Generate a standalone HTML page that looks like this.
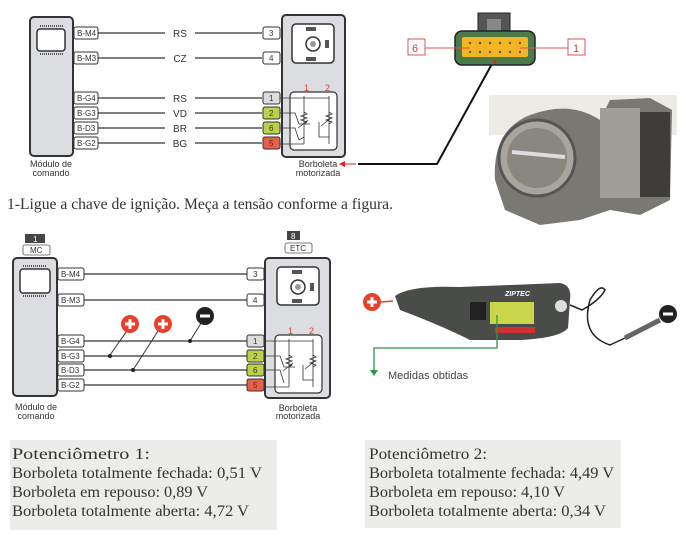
<!DOCTYPE html>
<html><head><meta charset="utf-8"><style>
html,body{margin:0;padding:0;background:#fff;}
svg{display:block;}
.s{font-family:"Liberation Sans",sans-serif;}
.r{font-family:"Liberation Serif",serif;}
</style></head><body>
<svg width="687" height="538" viewBox="0 0 687 538" xmlns="http://www.w3.org/2000/svg">
<rect width="687" height="538" fill="#fff"/>

<!-- ============ TOP DIAGRAM ============ -->
<g class="s">
<rect x="30" y="17" width="43" height="139" rx="4" fill="#dcdde0" stroke="#333" stroke-width="2"/>
<rect x="37" y="29" width="28" height="22" rx="3" fill="#fff" stroke="#333" stroke-width="1.5"/>
<line x1="40" y1="26" x2="63" y2="26" stroke="#555" stroke-width="2" stroke-dasharray="1,1"/>
<line x1="40" y1="54" x2="63" y2="54" stroke="#555" stroke-width="2" stroke-dasharray="1,1"/>
<text x="51" y="167" font-size="9" text-anchor="middle" fill="#333">Módulo de</text>
<text x="51" y="176" font-size="9" text-anchor="middle" fill="#333">comando</text>

<rect x="282" y="15" width="63" height="142" rx="4" fill="#dcdde0" stroke="#333" stroke-width="2"/>
<rect x="292" y="24" width="42" height="39" rx="4" fill="#fff" stroke="#333" stroke-width="1.5"/>
<circle cx="313" cy="44" r="7" fill="#fff" stroke="#333" stroke-width="1.5"/>
<circle cx="313" cy="44" r="3" fill="#999"/>
<rect x="306" y="27" width="10" height="4" fill="#555"/><rect x="306" y="57" width="10" height="4" fill="#555"/><rect x="325" y="40" width="4" height="8" fill="#555"/>
<rect x="290" y="92" width="47" height="58" rx="4" fill="#fff" stroke="#333" stroke-width="1.2"/>
<text x="304" y="91" font-size="9" fill="#e04030">1</text><text x="325" y="91" font-size="9" fill="#e04030">2</text>
<g stroke="#333" stroke-width="0.8" fill="none">
<path d="M304 96 V144 M329 96 V144 M280 98 H329 M280 113 H295 L299 124 H310 M280 128 H295 L299 140 M304 144 H280 M319 122 V137 H329 M304 137 L299 140"/>
<path d="M304 112 l3 2 -6 2 6 2 -6 2 6 2 -3 2"/><path d="M329 112 l3 2 -6 2 6 2 -6 2 6 2 -3 2"/>
<path d="M298 128 l10 -8 M321 126 l10 -8"/>
</g>
<text x="318" y="167" font-size="9" text-anchor="middle" fill="#333">Borboleta</text>
<text x="318" y="176" font-size="9" text-anchor="middle" fill="#333">motorizada</text>
<path d="M339 164 l6 -3 v6z" fill="#e02020"/>
<line x1="345" y1="164" x2="356" y2="164" stroke="#e02020" stroke-width="1"/>
<polyline points="358,164 437,164 493,62" fill="none" stroke="#111" stroke-width="2"/>

<g font-size="8" fill="#333">
<rect x="74" y="27" width="24" height="12" rx="2" fill="#fff" stroke="#333"/><text x="77" y="36">B-M4</text>
<line x1="98" y1="33" x2="165" y2="33" stroke="#333" stroke-width="1.3"/>
<line x1="195" y1="33" x2="262" y2="33" stroke="#333" stroke-width="1.3"/>
<rect x="263" y="27" width="17" height="12" rx="2" fill="#fff" stroke="#333"/><text x="269" y="36">3</text>
<rect x="74" y="52" width="24" height="12" rx="2" fill="#fff" stroke="#333"/><text x="77" y="61">B-M3</text>
<line x1="98" y1="58" x2="165" y2="58" stroke="#333" stroke-width="1.3"/><line x1="195" y1="58" x2="262" y2="58" stroke="#333" stroke-width="1.3"/>
<rect x="263" y="52" width="17" height="12" rx="2" fill="#fff" stroke="#333"/><text x="269" y="61">4</text>
<rect x="74" y="92" width="24" height="12" rx="2" fill="#fff" stroke="#333"/><text x="77" y="101">B-G4</text>
<line x1="98" y1="98" x2="165" y2="98" stroke="#333" stroke-width="1.3"/><line x1="195" y1="98" x2="262" y2="98" stroke="#333" stroke-width="1.3"/>
<rect x="263" y="92" width="17" height="12" rx="2" fill="#ddd" stroke="#333"/><text x="269" y="101">1</text>
<rect x="74" y="107" width="24" height="12" rx="2" fill="#fff" stroke="#333"/><text x="77" y="116">B-G3</text>
<line x1="98" y1="113" x2="165" y2="113" stroke="#333" stroke-width="1.3"/><line x1="195" y1="113" x2="262" y2="113" stroke="#333" stroke-width="1.3"/>
<rect x="263" y="107" width="17" height="12" rx="2" fill="#bcd04a" stroke="#333"/><text x="269" y="116">2</text>
<rect x="74" y="122" width="24" height="12" rx="2" fill="#fff" stroke="#333"/><text x="77" y="131">B-D3</text>
<line x1="98" y1="128" x2="165" y2="128" stroke="#333" stroke-width="1.3"/><line x1="195" y1="128" x2="262" y2="128" stroke="#333" stroke-width="1.3"/>
<rect x="263" y="122" width="17" height="12" rx="2" fill="#bcd04a" stroke="#333"/><text x="269" y="131">6</text>
<rect x="74" y="137" width="24" height="12" rx="2" fill="#fff" stroke="#333"/><text x="77" y="146">B-G2</text>
<line x1="98" y1="143" x2="165" y2="143" stroke="#333" stroke-width="1.3"/><line x1="195" y1="143" x2="262" y2="143" stroke="#333" stroke-width="1.3"/>
<rect x="263" y="137" width="17" height="12" rx="2" fill="#e8604a" stroke="#333"/><text x="269" y="146">5</text>
</g>
<g font-size="10" fill="#333" text-anchor="middle">
<text x="180" y="37">RS</text><text x="180" y="62">CZ</text><text x="180" y="102">RS</text><text x="180" y="117">VD</text><text x="180" y="132">BR</text><text x="180" y="147">BG</text>
</g>
</g>

<!-- connector image -->
<rect x="478" y="13" width="32" height="20" fill="#555" stroke="#222"/>
<rect x="487" y="19" width="14" height="12" fill="#888"/>
<rect x="455" y="31" width="80" height="34" rx="7" fill="#4a7a4a" stroke="#222" stroke-width="1.5"/>
<rect x="462" y="37" width="66" height="20" rx="2" fill="#f2b624"/>
<g fill="#555"><circle cx="470" cy="43" r="1.2"/><circle cx="480" cy="43" r="1.2"/><circle cx="490" cy="43" r="1.2"/><circle cx="500" cy="43" r="1.2"/><circle cx="510" cy="43" r="1.2"/><circle cx="520" cy="43" r="1.2"/>
<circle cx="470" cy="52" r="1.2"/><circle cx="480" cy="52" r="1.2"/><circle cx="490" cy="52" r="1.2"/><circle cx="500" cy="52" r="1.2"/><circle cx="510" cy="52" r="1.2"/><circle cx="520" cy="52" r="1.2"/></g>
<circle cx="495" cy="62" r="1.5" fill="#e02020"/>
<line x1="425" y1="48" x2="470" y2="48" stroke="#e05050"/><line x1="520" y1="48" x2="568" y2="48" stroke="#e05050"/>
<rect x="408" y="39" width="17" height="16" fill="#fff" stroke="#e05050"/><text x="412" y="52" class="s" font-size="11" fill="#d04040">6</text>
<rect x="568" y="39" width="17" height="16" fill="#fff" stroke="#e05050"/><text x="573" y="52" class="s" font-size="11" fill="#d04040">1</text>

<!-- throttle photo -->
<rect x="489" y="95" width="188" height="40" fill="#ecebe6"/>
<path d="M495 180 Q492 130 530 115 Q570 100 600 120 L610 100 L650 98 L672 110 L670 200 L640 215 L610 210 L580 220 L540 225 L505 210 Z" fill="#7a7872"/>
<circle cx="537" cy="158" r="38" fill="#a8a59e" stroke="#555" stroke-width="3"/>
<circle cx="537" cy="158" r="30" fill="#8a877f"/>
<line x1="512" y1="152" x2="565" y2="157" stroke="#ddd" stroke-width="4"/>
<rect x="600" y="108" width="40" height="90" fill="#a09e96"/>
<rect x="640" y="112" width="30" height="85" fill="#3e3d3a"/>

<text x="7" y="209" class="r" font-size="16" fill="#333" textLength="386" lengthAdjust="spacingAndGlyphs">1-Ligue a chave de ignição. Meça a tensão conforme a figura.</text>

<!-- ============ BOTTOM DIAGRAM ============ -->
<g class="s">
<rect x="25" y="234" width="20" height="9" fill="#444"/><text x="33" y="242" font-size="8" fill="#fff">1</text>
<rect x="23" y="245" width="27" height="10" rx="2" fill="#fff" stroke="#555" stroke-width="0.8"/><text x="30" y="253" font-size="8" fill="#333">MC</text>
<rect x="13" y="258" width="44" height="138" rx="4" fill="#dcdde0" stroke="#333" stroke-width="2"/>
<rect x="20" y="269" width="30" height="24" rx="3" fill="#fff" stroke="#333" stroke-width="1.5"/>
<line x1="23" y1="266" x2="47" y2="266" stroke="#555" stroke-width="2" stroke-dasharray="1,1"/>
<line x1="23" y1="296" x2="47" y2="296" stroke="#555" stroke-width="2" stroke-dasharray="1,1"/>
<text x="36" y="410" font-size="9" text-anchor="middle" fill="#333">Módulo de</text>
<text x="36" y="419" font-size="9" text-anchor="middle" fill="#333">comando</text>

<rect x="287" y="231" width="13" height="9" fill="#444"/><text x="291" y="239" font-size="8" fill="#fff">8</text>
<rect x="285" y="243" width="27" height="10" rx="2" fill="#fff" stroke="#555" stroke-width="0.8"/><text x="290" y="251" font-size="8" fill="#333">ETC</text>
<rect x="265" y="258" width="65" height="140" rx="4" fill="#dcdde0" stroke="#333" stroke-width="2"/>
<rect x="277" y="267" width="42" height="38" rx="4" fill="#fff" stroke="#333" stroke-width="1.5"/>
<circle cx="298" cy="287" r="7" fill="#fff" stroke="#333" stroke-width="1.5"/><circle cx="298" cy="287" r="3" fill="#999"/>
<rect x="292" y="270" width="10" height="4" fill="#555"/><rect x="292" y="299" width="10" height="4" fill="#555"/><rect x="310" y="283" width="4" height="8" fill="#555"/>
<rect x="275" y="335" width="47" height="58" rx="4" fill="#fff" stroke="#333" stroke-width="1.2"/>
<text x="288" y="334" font-size="9" fill="#e04030">1</text><text x="309" y="334" font-size="9" fill="#e04030">2</text>
<g stroke="#333" stroke-width="0.8" fill="none">
<path d="M289 339 V387 M313 339 V387 M264 341 H313 M264 356 H280 L284 367 H295 M264 370 H280 L284 383 M289 387 H264 M303 365 V380 H313"/>
<path d="M289 355 l3 2 -6 2 6 2 -6 2 6 2 -3 2"/><path d="M313 355 l3 2 -6 2 6 2 -6 2 6 2 -3 2"/>
<path d="M283 371 l10 -8 M305 369 l10 -8"/>
</g>
<text x="298" y="411" font-size="9" text-anchor="middle" fill="#333">Borboleta</text>
<text x="298" y="419" font-size="9" text-anchor="middle" fill="#333">motorizada</text>

<g font-size="8" fill="#333">
<rect x="58" y="268" width="26" height="12" rx="2" fill="#fff" stroke="#333"/><text x="61" y="277">B-M4</text>
<line x1="84" y1="274" x2="247" y2="274" stroke="#333" stroke-width="1.3"/>
<rect x="247" y="268" width="17" height="12" rx="2" fill="#fff" stroke="#333"/><text x="253" y="277">3</text>
<rect x="58" y="294" width="26" height="12" rx="2" fill="#fff" stroke="#333"/><text x="61" y="303">B-M3</text>
<line x1="84" y1="300" x2="247" y2="300" stroke="#333" stroke-width="1.3"/>
<rect x="247" y="294" width="17" height="12" rx="2" fill="#fff" stroke="#333"/><text x="253" y="303">4</text>
<rect x="58" y="335" width="26" height="12" rx="2" fill="#fff" stroke="#333"/><text x="61" y="344">B-G4</text>
<line x1="84" y1="341" x2="247" y2="341" stroke="#333" stroke-width="1.3"/>
<rect x="247" y="335" width="17" height="12" rx="2" fill="#ddd" stroke="#333"/><text x="253" y="344">1</text>
<rect x="58" y="350" width="26" height="12" rx="2" fill="#fff" stroke="#333"/><text x="61" y="359">B-G3</text>
<line x1="84" y1="356" x2="247" y2="356" stroke="#333" stroke-width="1.3"/>
<rect x="247" y="350" width="17" height="12" rx="2" fill="#bcd04a" stroke="#333"/><text x="253" y="359">2</text>
<rect x="58" y="364" width="26" height="12" rx="2" fill="#fff" stroke="#333"/><text x="61" y="373">B-D3</text>
<line x1="84" y1="370" x2="247" y2="370" stroke="#333" stroke-width="1.3"/>
<rect x="247" y="364" width="17" height="12" rx="2" fill="#bcd04a" stroke="#333"/><text x="253" y="373">6</text>
<rect x="58" y="379" width="26" height="12" rx="2" fill="#fff" stroke="#333"/><text x="61" y="388">B-G2</text>
<line x1="84" y1="385" x2="247" y2="385" stroke="#333" stroke-width="1.3"/>
<rect x="247" y="379" width="17" height="12" rx="2" fill="#e8604a" stroke="#333"/><text x="253" y="388">5</text>
</g>
<g stroke="#333" stroke-width="1">
<line x1="110" y1="355" x2="129" y2="328"/><line x1="133" y1="370" x2="160" y2="328"/><line x1="190" y1="341" x2="203" y2="320"/>
</g>
<circle cx="110" cy="356" r="2" fill="#222"/><circle cx="133" cy="370" r="2" fill="#222"/><circle cx="190" cy="341" r="2" fill="#222"/>
</g>
<g>
<circle cx="130" cy="324" r="9" fill="#e8402a"/><path d="M125 324h10M130 319v10" stroke="#fff" stroke-width="3"/>
<circle cx="163" cy="324" r="9" fill="#e8402a"/><path d="M158 324h10M163 319v10" stroke="#fff" stroke-width="3"/>
<circle cx="205" cy="316" r="9" fill="#222"/><path d="M200 316h10" stroke="#fff" stroke-width="3"/>
</g>

<!-- meter -->
<circle cx="372" cy="302" r="9" fill="#e8402a"/><path d="M367 302h10M372 297v10" stroke="#fff" stroke-width="3"/>
<line x1="381" y1="302" x2="393" y2="301" stroke="#e04030" stroke-width="1.5"/>
<path d="M395 296 Q410 285 460 287 L560 283 Q572 285 570 300 L568 328 Q560 338 520 340 L470 340 Q440 325 400 310 Z" fill="#4a4c4a"/>
<rect x="470" y="302" width="16" height="18" fill="#222"/>
<rect x="490" y="302" width="44" height="22" fill="#c9d64a"/>
<rect x="495" y="327" width="40" height="6" fill="#d03030"/>
<circle cx="561" cy="306" r="6" fill="#ddd"/>
<text x="505" y="296" class="s" font-size="7" font-weight="bold" font-style="italic" fill="#fff">ZIPTEC</text>
<path d="M570 305 L582 310 Q600 300 605 290 Q600 283 590 300 Q580 335 610 345 L625 338" fill="none" stroke="#222" stroke-width="1.5"/>
<path d="M625 338 L660 320" stroke="#666" stroke-width="5"/>
<circle cx="668" cy="314" r="9" fill="#222"/><path d="M663 314h10" stroke="#fff" stroke-width="3"/>
<polyline points="497,315 497,348 374,348 374,372" fill="none" stroke="#2a9a40" stroke-width="1.3"/>
<path d="M370 370 l4 6 4 -6z" fill="#2a9a40"/>
<text x="388" y="379" class="s" font-size="11" fill="#444">Medidas obtidas</text>

<!-- bottom text boxes -->
<rect x="10" y="440" width="267" height="90" fill="#ececea"/>
<rect x="365" y="440" width="256" height="88" fill="#ececea"/>
<g class="r" font-size="16" fill="#333">
<text x="12" y="459" textLength="138" lengthAdjust="spacingAndGlyphs">Potenciômetro 1:</text>
<text x="12" y="478" textLength="250" lengthAdjust="spacingAndGlyphs">Borboleta totalmente fechada: 0,51 V</text>
<text x="12" y="497" textLength="196" lengthAdjust="spacingAndGlyphs">Borboleta em repouso: 0,89 V</text>
<text x="12" y="516" textLength="237" lengthAdjust="spacingAndGlyphs">Borboleta totalmente aberta: 4,72 V</text>
<text x="369" y="459" textLength="118" lengthAdjust="spacingAndGlyphs">Potenciômetro 2:</text>
<text x="369" y="478" textLength="245" lengthAdjust="spacingAndGlyphs">Borboleta totalmente fechada: 4,49 V</text>
<text x="369" y="497" textLength="196" lengthAdjust="spacingAndGlyphs">Borboleta em repouso: 4,10 V</text>
<text x="369" y="516" textLength="237" lengthAdjust="spacingAndGlyphs">Borboleta totalmente aberta: 0,34 V</text>
</g>
</svg>
</body></html>
